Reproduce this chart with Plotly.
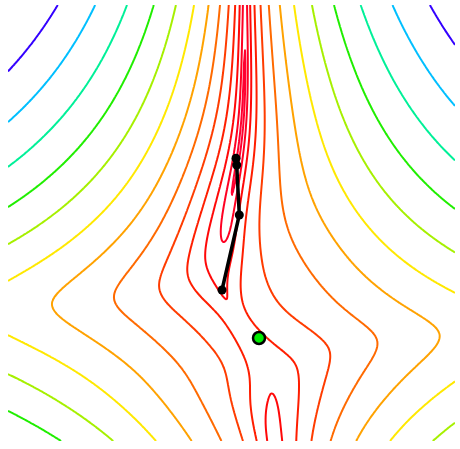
import numpy as np
import plotly.graph_objects as go

# ---------------- data (image-pixel units of the plot area) ----------------
# optimisation path (x to the right, y downward)
path_x = [214.0, 231.3, 228.7, 228.0]
path_y = [285.0, 210.0, 160.0, 153.3]
# marked minimum
min_x = [251.0]
min_y = [333.0]
# contour level indices and their colours
levels = [-9, -8, -7, -6, -5, -4, -3, -2, -1, 0, 1, 2, 3, 4, 5]
level_colors = ["#ff0044", "#ff003a", "#ff0030", "#ff0022", "#ff0808", "#ff1e00",
                "#ff3c00", "#ff6a00", "#ffa200", "#ffe800", "#a6f000", "#20ee00",
                "#00f098", "#00bfff", "#3300ff"]

# ---------------- surface (level index field) ----------------
W, H = 447, 436
xs = np.arange(0, W + 1, 1.0)
ys = np.arange(0, H + 1, 2.0)
X, Y = np.meshgrid(xs, ys)
px = X + 8.0
py = Y + 5.0

A0 = -10.35
B0, SU, LU, SD, DL = 1.92, 0.0063, 650.0, 0.0054, 20.0
K, U0, SG_UP, SG_DN, YW = 3000.0, 25.0, 220.0, 150.0, 320.0


def bfun(d):
    vs = np.sqrt(d * d + DL * DL) - DL
    return B0 + np.where(d < 0, SU * vs / (1 + vs / LU), SD * vs)


def sig(t):
    return 1.0 / (1.0 + np.exp(-t))


c = 245.0 + 17.0 * np.clip((py - 300.0) / 141.0, 0, 1) ** 1.5
u0 = px - c
shift = -22.0 * np.exp(-((py - 260.0) / 95.0) ** 2) + 11.0 * sig((py - 320.0) / 15.0)
u = u0 - shift * np.exp(-u0 * u0 / (2 * 40.0 ** 2))
G = np.exp(-((py - YW) / np.where(py < YW, SG_UP, SG_DN)) ** 2)
w = YW + K * u / (u * u + U0 * U0) * G
b = bfun(py - w)
floor = (-7.3 + 2.6 * sig((py - 240.0) / 22.0) - 0.75 * sig((py - 415.0) / 20.0)
         + 0.3 * np.exp(-((py - 370.0) / 30.0) ** 2)
         + 0.8 * np.exp(-(py / 50.0) ** 2))
bc = bfun(py - YW)
s = ((floor - A0) / bc) ** (1 / 0.3)
Z = A0 + b * (u * u + s * s) ** 0.15
Z = np.round(Z, 3)

zmin, zmax = levels[0], levels[-1]
cs = [[(lv - zmin) / (zmax - zmin), col] for lv, col in zip(levels, level_colors)]

fig = go.Figure()
fig.add_trace(go.Contour(
    x=xs, y=ys, z=Z,
    zauto=False, zmin=zmin, zmax=zmax,
    contours=dict(start=zmin, end=zmax, size=1, coloring="lines"),
    colorscale=cs, showscale=False,
    line=dict(width=2, smoothing=1.0),
    hoverinfo="skip",
))
fig.add_trace(go.Scatter(
    x=path_x, y=path_y, mode="lines+markers",
    line=dict(color="black", width=3.5),
    marker=dict(color="black", size=9),
    hoverinfo="skip",
))
fig.add_trace(go.Scatter(
    x=min_x, y=min_y, mode="markers",
    marker=dict(color="#00ee00", size=12, line=dict(color="black", width=2.5)),
    hoverinfo="skip",
))
fig.update_layout(
    width=460, height=449,
    margin=dict(l=8, r=5, t=5, b=8),
    paper_bgcolor="white", plot_bgcolor="white",
    showlegend=False,
)
fig.update_xaxes(range=[0, W], visible=False)
fig.update_yaxes(range=[H, 0], visible=False)
fig.write_html("out.html")
